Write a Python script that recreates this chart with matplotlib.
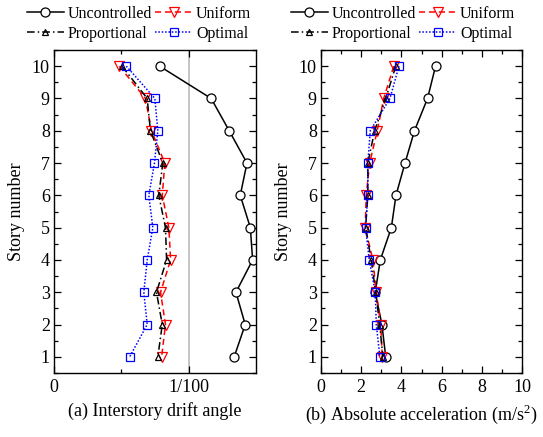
import matplotlib
matplotlib.use("Agg")
import matplotlib.pyplot as plt
from matplotlib.ticker import MultipleLocator, FixedLocator

plt.rcParams['font.family'] = ['Liberation Serif', 'DejaVu Serif']
plt.rcParams['mathtext.fontset'] = 'custom'
plt.rcParams['mathtext.rm'] = 'Liberation Serif'

stories = [10, 9, 8, 7, 6, 5, 4, 3, 2, 1]

# (a) Interstory drift angle
drift_unc = [0.00784, 0.01167, 0.01301, 0.01433, 0.01383, 0.01458, 0.01475, 0.01351, 0.01420, 0.01338]
drift_uni = [0.00485, 0.00679, 0.00724, 0.00823, 0.00804, 0.00853, 0.00866, 0.00791, 0.00828, 0.00799]
drift_pro = [0.00505, 0.00692, 0.00716, 0.00808, 0.00778, 0.00828, 0.00836, 0.00761, 0.00804, 0.00771]
drift_opt = [0.00537, 0.00749, 0.00771, 0.00746, 0.00704, 0.00734, 0.00692, 0.00667, 0.00692, 0.00562]

# (b) Absolute acceleration (m/s^2)
acc_unc = [5.70, 5.30, 4.65, 4.18, 3.73, 3.50, 2.95, 2.70, 3.03, 3.22]
acc_uni = [3.62, 3.12, 2.80, 2.42, 2.25, 2.20, 2.58, 2.75, 2.97, 3.05]
acc_pro = [3.72, 3.22, 2.67, 2.33, 2.33, 2.22, 2.50, 2.72, 2.92, 3.08]
acc_opt = [3.88, 3.43, 2.45, 2.33, 2.32, 2.22, 2.40, 2.70, 2.75, 2.93]

series_labels = ['Uncontrolled', 'Uniform', 'Proportional', 'Optimal']
drift_xticks = [0, 0.01]
drift_xticklabels = ['0', '1/100']
acc_xticks = [0, 2, 4, 6, 8, 10]

W, H = 543, 437
fig = plt.figure(figsize=(W / 100, H / 100), dpi=100)

def frac(x0, x1, y0, y1):
    return [x0 / W, 1 - y1 / H, (x1 - x0) / W, (y1 - y0) / H]

ax1 = fig.add_axes(frac(54, 256, 50, 373))
ax2 = fig.add_axes(frac(321, 522, 50, 373))

styles = [
    dict(color='black', linestyle='-', marker='o', markersize=6.5, markerfacecolor='white', markeredgecolor='black'),
    dict(color='red', linestyle=(0, (4, 2.5)), marker='v', markersize=7, markerfacecolor='none', markeredgecolor='red'),
    dict(color='black', linestyle=(0, (5, 2, 1, 2)), marker='^', markersize=5, markerfacecolor='none', markeredgecolor='black'),
    dict(color='#0000ff', linestyle=(0, (1, 1.2)), marker='s', markersize=5.5, markerfacecolor='none', markeredgecolor='#0000ff'),
]

ax1.axvline(0.01, color='#c0c0c0', lw=1.3, zorder=0)

for ax, data in [(ax1, [drift_unc, drift_uni, drift_pro, drift_opt]),
                 (ax2, [acc_unc, acc_uni, acc_pro, acc_opt])]:
    for vals, st, lab in zip(data, styles, series_labels):
        ax.plot(vals, stories, lw=1.1, markeredgewidth=0.9, label=lab, **st)

ax1.set_xlim(0, 0.015)
ax1.xaxis.set_major_locator(FixedLocator(drift_xticks))
ax1.set_xticklabels(drift_xticklabels)
ax1.xaxis.set_minor_locator(FixedLocator([0.005]))
ax2.set_xlim(0, 10)
ax2.xaxis.set_major_locator(FixedLocator(acc_xticks))
ax2.xaxis.set_minor_locator(MultipleLocator(1))

for ax in (ax1, ax2):
    ax.set_ylim(0.5, 10.5)
    ax.yaxis.set_major_locator(MultipleLocator(1))
    ax.yaxis.set_minor_locator(MultipleLocator(0.5))
    ax.tick_params(which='both', direction='in', top=True, right=True, labelsize=13, width=0.9)
    ax.tick_params(which='major', length=5)
    ax.tick_params(axis='x', which='major', pad=4)
    ax.tick_params(axis='y', which='major', pad=3)
    ax.tick_params(which='minor', length=3)
    ax.set_ylabel('Story number', fontsize=13, labelpad=5)
    for s in ax.spines.values():
        s.set_linewidth(1.0)

ax1.set_xlabel('(a) Interstory drift angle', fontsize=13, labelpad=5)
ax2.set_xlabel('(b) Absolute acceleration (m/s$^2$)', fontsize=13, labelpad=5)

for ax, xa in [(ax1, 27), (ax2, 291)]:
    h, l = ax.get_legend_handles_labels()
    order = [0, 2, 1, 3]
    fig.legend([h[i] for i in order], [l[i] for i in order], ncol=2, frameon=False,
               loc='upper left', bbox_to_anchor=(xa / W, 1 - 6 / H), borderaxespad=0, borderpad=0,
               fontsize=11.5, handlelength=2.3, handletextpad=0.25, columnspacing=0.2, labelspacing=0.25)

fig.savefig('out.png', dpi=100)
